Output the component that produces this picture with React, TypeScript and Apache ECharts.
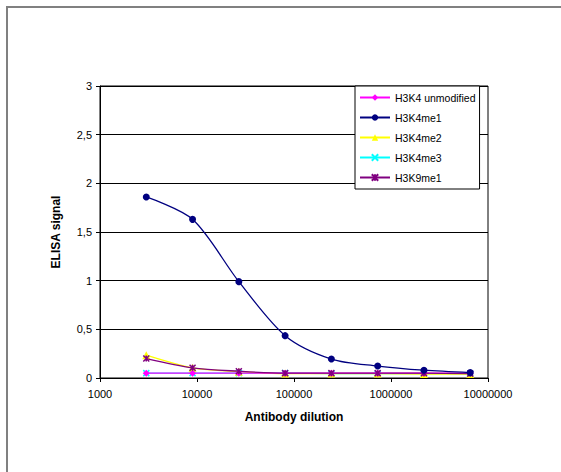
import React, { useEffect, useRef } from "react";
import * as echarts from "echarts";

const dilutions = [3000, 9000, 27000, 81000, 243000, 729000, 2187000, 6561000];
const seriesNames = ["H3K4 unmodified", "H3K4me1", "H3K4me2", "H3K4me3", "H3K9me1"];
const unmodified = [0.05, 0.05, 0.05, 0.05, 0.05, 0.05, 0.05, 0.05];
const me1 = [1.86, 1.63, 0.99, 0.435, 0.195, 0.123, 0.08, 0.055];
const me2 = [0.235, 0.105, 0.065, 0.045, 0.045, 0.045, 0.04, 0.04];
const me3 = [0.05, 0.05, 0.05, 0.05, 0.045, 0.045, 0.045, 0.045];
const k9me1 = [0.2, 0.105, 0.07, 0.05, 0.05, 0.05, 0.05, 0.045];
const xTicks = [1000, 10000, 100000, 1000000, 10000000];
const yTicks = [0, 0.5, 1, 1.5, 2, 2.5, 3];

const xMark = "path://M0,0L10,10M10,0L0,10";
const starMark = "path://M0,0L10,10M10,0L0,10M5,0L5,10";

export default function App() {
  const ref = useRef<HTMLDivElement>(null);
  useEffect(() => {
    if (!ref.current) return;
    const chart = echarts.init(ref.current, undefined, { renderer: "svg" });
    const pairs = (vals: number[]) => dilutions.map((d, i) => [d, vals[i]]);
    const font = "Liberation Sans, Arial, sans-serif";
    const mk = (name: string, vals: number[], color: string, symbol: string, size: number, extra: any = {}) => ({
      name,
      type: "line",
      data: pairs(vals),
      smooth: 0.3,
      symbol,
      symbolSize: size,
      lineStyle: { color, width: 1.3 },
      itemStyle: { color, borderColor: color, borderWidth: extra.bw ?? 0 },
      z: extra.z ?? 2,
    });
    chart.setOption({
      animation: false,
      backgroundColor: "#fff",
      textStyle: { fontFamily: font },
      graphic: [
        {
          type: "rect",
          shape: { x: 7, y: 7, width: 600, height: 500 },
          style: { fill: "none", stroke: "#808080", lineWidth: 2 },
          silent: true,
        },
      ],
      grid: { left: 100, right: 73, top: 86, bottom: 94, show: true, borderColor: "#000", borderWidth: 1 },
      legend: {
        orient: "vertical",
        left: 355,
        top: 86,
        width: 133,
        padding: [6, 4, 6, 4],
        itemGap: 9,
        itemWidth: 30,
        itemHeight: 8,
        backgroundColor: "#fff",
        borderColor: "#000",
        borderWidth: 1,
        textStyle: { fontSize: 10.5, color: "#000", fontFamily: font },
        data: seriesNames,
      },
      xAxis: {
        type: "log",
        logBase: 10,
        min: 1000,
        max: 10000000,
        name: "Antibody dilution",
        nameLocation: "middle",
        nameGap: 33,
        nameTextStyle: { fontSize: 12, fontWeight: "bold", color: "#000", fontFamily: font },
        axisLine: { lineStyle: { color: "#000", width: 1 } },
        axisTick: { show: true, length: 4, lineStyle: { color: "#000" } },
        minorTick: { show: false },
        splitLine: { show: false },
        axisLabel: {
          color: "#000",
          fontSize: 11,
          margin: 10,
          formatter: (v: number) => {
            const r = Math.round(v);
            return xTicks.includes(r) ? String(r) : "";
          },
        },
      },
      yAxis: {
        type: "value",
        min: 0,
        max: 3,
        interval: 0.5,
        name: "ELISA signal",
        nameLocation: "middle",
        nameGap: 38,
        nameTextStyle: { fontSize: 12, fontWeight: "bold", color: "#000", fontFamily: font },
        axisLine: { show: true, lineStyle: { color: "#000", width: 1 } },
        axisTick: { show: true, length: 4, lineStyle: { color: "#000" } },
        splitLine: { show: true, lineStyle: { color: "#000", width: 1.2 } },
        axisLabel: {
          color: "#000",
          fontSize: 11,
          margin: 8,
          formatter: (v: number) => (yTicks.includes(v) ? String(v).replace(".", ",") : ""),
        },
      },
      series: [
        mk(seriesNames[0], unmodified, "#FF00FF", "diamond", 7, { z: 3 }),
        mk(seriesNames[1], me1, "#000080", "circle", 7, { z: 5 }),
        mk(seriesNames[2], me2, "#FFFF00", "triangle", 8, { z: 2 }),
        mk(seriesNames[3], me3, "#00FFFF", xMark, 6, { bw: 1.5, z: 1 }),
        mk(seriesNames[4], k9me1, "#800080", starMark, 6, { bw: 1.5, z: 4 }),
      ],
    });
    return () => chart.dispose();
  }, []);
  return (
    <div
      ref={ref}
      style={{ position: "fixed", left: 0, top: 0, width: 561, height: 472 }}
    />
  );
}
